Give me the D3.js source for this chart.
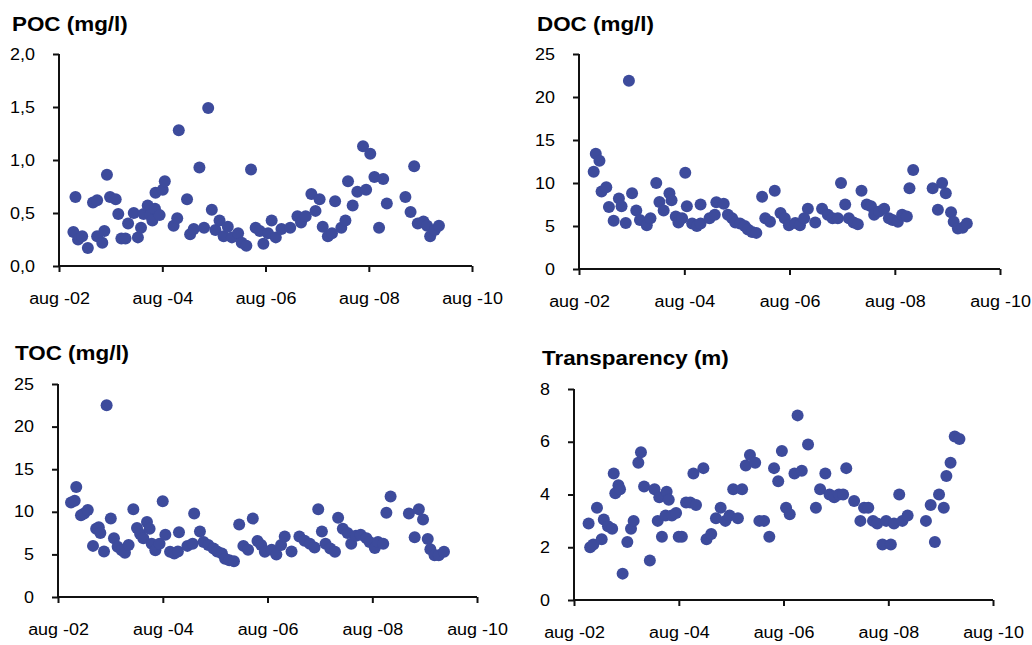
<!DOCTYPE html>
<html lang="en">
<head>
<meta charset="utf-8" />
<title>Carbon and transparency</title>
<script src="https://cdn.jsdelivr.net/npm/d3@7"></script>
<style>
  body { margin: 0; background: #fff; }
  svg text { font-family: "Liberation Sans", Arial, sans-serif; fill: #000; }
</style>
</head>
<body>
<svg id="chart" width="1032" height="645"></svg>
<script>
// sample dates as decimal years
const pocDates = [2002.90,2002.86,2002.95,2003.03,2003.14,2003.24,2003.32,2003.32,2003.42,2003.46,
  2003.51,2003.57,2003.68,2003.73,2003.79,2003.87,2003.92,2004.03,2004.11,2004.17,
  2004.22,2004.30,2004.35,2004.39,2004.44,2004.45,2004.53,2004.59,2004.63,2004.80,
  2004.87,2004.90,2005.06,2005.12,2005.19,2005.30,2005.39,2005.47,2005.54,2005.61,
  2005.69,2005.77,2005.85,2005.93,2006.05,2006.12,2006.21,2006.30,2006.39,2006.47,
  2006.54,2006.63,2006.70,2006.78,2006.89,2007.06,2007.20,2007.27,2007.36,2007.47,
  2007.55,2007.63,2007.69,2007.79,2007.87,2007.93,2008.05,2008.13,2008.18,2008.27,
  2008.36,2008.47,2008.53,2008.61,2008.69,2008.78,2008.86,2008.93,2009.29,2009.39,
  2009.46,2009.53,2009.64,2009.71,2009.77,2009.86,2009.94];
const pocValues = [0.65,0.32,0.25,0.28,0.17,0.60,0.62,0.28,0.22,0.33,
  0.86,0.65,0.63,0.49,0.26,0.26,0.40,0.50,0.27,0.36,
  0.49,0.57,0.48,0.43,0.54,0.69,0.48,0.72,0.80,0.38,
  0.45,1.28,0.63,0.30,0.35,0.93,0.36,1.49,0.53,0.34,
  0.43,0.28,0.37,0.27,0.31,0.22,0.19,0.91,0.36,0.33,
  0.21,0.31,0.43,0.27,0.35,0.36,0.47,0.41,0.47,0.68,
  0.52,0.63,0.37,0.28,0.31,0.61,0.36,0.43,0.80,0.57,
  0.70,1.13,0.72,1.06,0.84,0.36,0.82,0.59,0.65,0.51,
  0.94,0.40,0.42,0.38,0.28,0.34,0.38];

const docDates = [2002.86,2002.90,2002.97,2003.01,2003.10,2003.15,2003.24,2003.34,2003.39,2003.47,
  2003.53,2003.59,2003.67,2003.74,2003.87,2003.94,2004.05,2004.11,2004.19,2004.30,
  2004.34,2004.42,2004.47,2004.54,2004.60,2004.63,2004.73,2004.82,2004.89,2004.89,
  2005.06,2005.16,2005.19,2005.33,2005.41,2005.49,2005.55,2005.64,2005.73,2005.79,
  2005.87,2005.95,2006.06,2006.12,2006.21,2006.30,2006.41,2006.49,2006.57,2006.69,
  2006.78,2006.86,2006.93,2007.07,2007.20,2007.31,2007.40,2007.50,2007.56,2007.64,
  2007.71,2007.80,2007.88,2007.95,2008.05,2008.13,2008.19,2008.29,2008.38,2008.47,
  2008.54,2008.64,2008.72,2008.81,2008.86,2008.93,2009.30,2009.40,2009.48,2009.55,
  2009.65,2009.70,2009.78,2009.87,2009.95];
const docValues = [11.3,13.4,12.6,9.0,9.5,7.2,5.6,8.2,7.3,5.35,
  21.9,8.8,6.8,5.7,5.1,5.9,10.0,7.8,6.8,8.8,
  8.0,6.1,5.4,5.9,11.2,7.3,5.3,5.0,7.5,5.3,
  5.9,6.3,7.75,7.6,6.3,5.9,5.4,5.3,5.0,4.6,
  4.3,4.2,8.4,5.9,5.5,9.1,6.5,5.9,5.1,5.35,
  5.1,5.9,7.0,5.4,7.0,6.3,5.9,5.9,10.0,7.5,
  5.9,5.4,5.2,9.1,7.5,7.3,6.3,6.7,7.0,5.9,
  5.7,5.5,6.3,6.1,9.4,11.5,9.4,6.9,10.0,8.8,
  6.6,5.5,4.7,4.8,5.3];

const tocDates = [2002.83,2002.90,2002.93,2003.02,2003.08,2003.15,2003.25,2003.31,2003.36,2003.39,
  2003.46,2003.51,2003.59,2003.65,2003.72,2003.80,2003.86,2003.93,2004.02,2004.09,
  2004.15,2004.21,2004.28,2004.33,2004.37,2004.44,2004.52,2004.58,2004.63,2004.72,
  2004.80,2004.87,2004.89,2005.05,2005.15,2005.18,2005.29,2005.36,2005.45,2005.55,
  2005.62,2005.71,2005.77,2005.85,2005.94,2006.04,2006.12,2006.21,2006.30,2006.39,
  2006.46,2006.53,2006.66,2006.75,2006.84,2006.91,2007.04,2007.19,2007.29,2007.39,
  2007.48,2007.55,2007.62,2007.69,2007.78,2007.87,2007.93,2008.02,2008.11,2008.18,
  2008.27,2008.36,2008.47,2008.53,2008.63,2008.69,2008.79,2008.85,2008.93,2009.28,
  2009.39,2009.47,2009.55,2009.64,2009.69,2009.77,2009.85,2009.95];
const tocValues = [11.1,11.3,12.9,9.6,9.8,10.2,6.0,8.0,8.2,7.5,
  5.35,22.5,9.2,6.9,5.9,5.5,5.2,6.1,10.3,8.1,
  7.4,6.9,8.8,8.0,6.25,5.5,6.25,11.25,7.3,5.3,
  5.1,5.35,7.6,6.0,6.25,9.8,7.7,6.45,6.1,5.7,
  5.35,5.1,4.5,4.3,4.2,8.5,6.0,5.55,9.2,6.56,
  6.1,5.3,5.55,5.0,6.1,7.1,5.35,7.1,6.6,6.25,
  5.8,10.3,7.7,6.25,5.7,5.3,9.3,8.0,7.5,6.25,
  7.2,7.3,6.9,6.45,5.75,6.45,6.25,9.9,11.8,9.8,
  7.0,10.3,9.1,6.8,5.6,4.9,4.9,5.3];

const trDates = [2002.86,2002.89,2002.95,2003.02,2003.11,2003.15,2003.23,2003.31,2003.34,2003.37,
  2003.43,2003.46,2003.51,2003.60,2003.67,2003.72,2003.81,2003.86,2003.92,2004.03,
  2004.12,2004.18,2004.21,2004.26,2004.33,2004.35,2004.39,2004.45,2004.53,2004.58,
  2004.64,2004.72,2004.80,2004.86,2004.91,2005.05,2005.11,2005.20,2005.29,2005.38,
  2005.47,2005.55,2005.62,2005.71,2005.79,2005.86,2005.94,2006.04,2006.12,2006.21,
  2006.31,2006.40,2006.48,2006.55,2006.63,2006.70,2006.79,2006.85,2006.93,2007.05,
  2007.20,2007.28,2007.38,2007.46,2007.55,2007.64,2007.72,2007.78,2007.93,2008.05,
  2008.12,2008.20,2008.29,2008.37,2008.47,2008.54,2008.63,2008.69,2008.79,2008.85,
  2008.95,2009.30,2009.39,2009.47,2009.55,2009.64,2009.69,2009.77,2009.85,2009.94];
const trValues = [2.9,2.0,2.1,3.5,2.3,3.05,2.8,2.7,4.8,4.05,
  4.35,4.2,1.0,2.2,2.7,3.0,5.2,5.6,4.3,1.5,
  4.2,3.0,3.9,2.4,3.2,4.1,3.8,3.2,3.3,2.4,
  2.4,3.7,3.7,4.8,3.6,5.0,2.3,2.5,3.1,3.5,
  3.0,3.2,4.2,3.1,4.2,5.1,5.5,5.2,3.0,3.0,
  2.4,5.0,4.5,5.65,3.5,3.25,4.8,7.0,4.9,5.9,
  3.5,4.2,4.8,4.0,3.9,4.0,4.0,5.0,3.75,3.0,
  3.5,3.5,3.0,2.9,2.1,3.0,2.1,2.9,4.0,3.0,
  3.2,3.0,3.6,2.2,4.0,3.5,4.7,5.2,6.2,6.1];

const xTickYears = [2002, 2004, 2006, 2008, 2010];
const pocTicks = [0, 0.5, 1, 1.5, 2];
const docTicks = [0, 5, 10, 15, 20, 25];
const tocTicks = [0, 5, 10, 15, 20, 25];
const trTicks = [0, 2, 4, 6, 8];

// decimal year -> Date
function toDate(y) {
  const yr = Math.floor(y);
  const s = new Date(yr, 0, 1), e = new Date(yr + 1, 0, 1);
  return new Date(+s + (y - yr) * (e - s));
}

const comma = d3.formatLocale({ decimal: ",", thousands: " ", grouping: [3], currency: ["", ""] });
const monthLabel = d => "aug -" + d3.timeFormat("%y")(d);

const panels = [
  { title: "POC (mg/l)", dates: pocDates, values: pocValues, ticks: pocTicks, fmt: comma.format(".1f"),
    left: 59, right: 472, top: 54, bottom: 266, tx: 12, ty: 31 },
  { title: "DOC (mg/l)", dates: docDates, values: docValues, ticks: docTicks, fmt: d3.format("d"),
    left: 579, right: 1000, top: 54, bottom: 269, tx: 537, ty: 31 },
  { title: "TOC (mg/l)", dates: tocDates, values: tocValues, ticks: tocTicks, fmt: d3.format("d"),
    left: 58, right: 477, top: 384, bottom: 597, tx: 15, ty: 360 },
  { title: "Transparency (m)", dates: trDates, values: trValues, ticks: trTicks, fmt: d3.format("d"),
    left: 574, right: 993, top: 389, bottom: 600, tx: 542, ty: 365 }
];

const svg = d3.select("#chart");
svg.append("rect").attr("width", 1032).attr("height", 645).attr("fill", "#fff");

// the original text is a bit wider than Arial, stretch it
function stretch(sel, k) {
  sel.each(function () {
    const w = this.getComputedTextLength();
    d3.select(this).attr("textLength", w * k).attr("lengthAdjust", "spacingAndGlyphs");
  });
}

panels.forEach(p => {
  const x = d3.scaleTime()
    .domain([new Date(2002, 7, 1), new Date(2010, 7, 1)])
    .range([p.left, p.right]);
  const y = d3.scaleLinear()
    .domain([0, d3.max(p.ticks)])
    .range([p.bottom, p.top]);

  const g = svg.append("g");

  g.append("text")
    .attr("x", p.tx).attr("y", p.ty)
    .style("font-size", "20px").style("font-weight", "bold")
    .text(p.title)
    .call(stretch, 1.12);

  const xAxis = g.append("g")
    .attr("transform", `translate(0,${p.bottom})`)
    .call(d3.axisBottom(x)
      .tickValues(xTickYears.map(yr => new Date(yr, 7, 1)))
      .tickFormat(monthLabel)
      .tickSize(6).tickSizeOuter(0).tickPadding(21));

  const yAxis = g.append("g")
    .attr("transform", `translate(${p.left},0)`)
    .call(d3.axisLeft(y)
      .tickValues(p.ticks)
      .tickFormat(p.fmt)
      .tickSize(6).tickSizeOuter(0).tickPadding(18));

  [xAxis, yAxis].forEach(a => {
    a.select(".domain").attr("stroke", "#111").attr("stroke-width", 2);
    a.selectAll(".tick line").attr("stroke", "#111").attr("stroke-width", 2);
    a.selectAll(".tick text")
      .attr("font-family", null).attr("font-size", null)
      .style("font-size", "16px")
      .call(stretch, 1.12);
  });
  xAxis.select(".domain").attr("d", `M${p.left},0H${p.right}`);
  yAxis.select(".domain").attr("d", `M0,${p.bottom + 1}V${p.top}`);

  const pts = d3.zip(p.dates, p.values);
  g.append("g")
    .selectAll("circle")
    .data(pts)
    .join("circle")
    .attr("cx", d => x(toDate(d[0])))
    .attr("cy", d => y(d[1]))
    .attr("r", 6)
    .attr("fill", "#3d4b9c");
});
</script>
</body>
</html>
